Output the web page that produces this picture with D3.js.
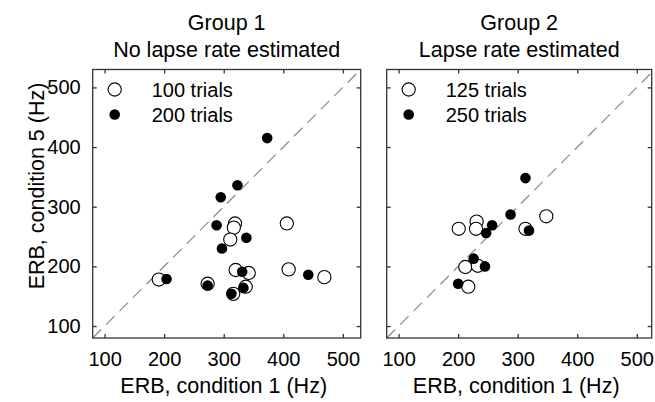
<!DOCTYPE html>
<html>
<head>
<meta charset="utf-8">
<script src="https://cdn.jsdelivr.net/npm/d3@7"></script>
<style>
  body { margin: 0; background: #fff; }
  text { font-family: "Liberation Sans", Arial, sans-serif; fill: #000; }
</style>
</head>
<body>
<div id="chart"></div>
<script>
// ERB condition 1 (x) vs ERB condition 5 (y), two groups

// group 1 - no lapse rate estimated
var g1OpenX = [191, 273, 319, 317, 311, 320, 342, 337, 316, 406, 409, 469];
var g1OpenY = [178, 171, 272, 265, 245, 194, 189, 166, 154, 272, 195, 182];
var g1FilledX = [204, 273, 313, 333, 331, 297, 338, 288, 295, 323, 373, 442];
var g1FilledY = [179, 168, 154, 164, 191, 230, 248, 269, 316, 336, 415, 186];

// group 2 - lapse rate estimated
var g2OpenX = [201, 231, 230, 212, 233, 217, 313, 348];
var g2OpenY = [263, 275, 263, 199, 201, 166, 263, 284];
var g2FilledX = [200, 226, 245, 247, 257, 288, 319, 313];
var g2FilledY = [171, 213, 200, 256, 269, 287, 260, 348];

var ticks = [100, 200, 300, 400, 500];
var titles1 = ["Group 1", "No lapse rate estimated"];
var titles2 = ["Group 2", "Lapse rate estimated"];
var legend1 = ["100 trials", "200 trials"];
var legend2 = ["125 trials", "250 trials"];

var svgWidth = 655;
var svgHeight = 402;

var svg = d3.select("#chart")
  .append("svg")
  .attr("width", svgWidth)
  .attr("height", svgHeight);

var panelTop = 69.5;
var panelHeight = 268.5;

// y scale is shared
var yScale = d3.scaleLinear()
  .domain([80, 530])
  .range([panelTop + panelHeight, panelTop]);

function zip(xs, ys) {
  return xs.map(function(x, i) { return {x: x, y: ys[i]}; });
}

function drawPanel(opts) {
  var x0 = opts.left, w = opts.width;
  var xScale = d3.scaleLinear()
    .domain(opts.xDomain)
    .range([x0, x0 + w]);

  var g = svg.append("g");

  // diagonal (identity) line
  var lo = Math.max(opts.xDomain[0], 80), hi = Math.min(opts.xDomain[1], 530);
  g.append("line")
    .attr("x1", xScale(lo)).attr("y1", yScale(lo))
    .attr("x2", xScale(hi)).attr("y2", yScale(hi))
    .attr("stroke", "#8a8a8a")
    .attr("stroke-width", 1.2)
    .attr("stroke-dasharray", "12,7");

  // axes, ticks pointing inward on all four sides
  var bottom = g.append("g")
    .attr("transform", `translate(0, ${panelTop + panelHeight})`)
    .call(d3.axisBottom(xScale).tickValues(ticks).tickSizeInner(-4).tickSizeOuter(0).tickPadding(14));
  var top = g.append("g")
    .attr("transform", `translate(0, ${panelTop})`)
    .call(d3.axisTop(xScale).tickValues(ticks).tickSizeInner(-4).tickSizeOuter(0).tickFormat(""));
  var left = g.append("g")
    .attr("transform", `translate(${x0}, 0)`)
    .call(d3.axisLeft(yScale).tickValues(ticks).tickSizeInner(-4).tickSizeOuter(0).tickPadding(12));
  var right = g.append("g")
    .attr("transform", `translate(${x0 + w}, 0)`)
    .call(d3.axisRight(yScale).tickValues(ticks).tickSizeInner(-4).tickSizeOuter(0).tickFormat(""));

  [bottom, top, left, right].forEach(function(a) {
    a.select(".domain").remove();
    a.selectAll("line").attr("stroke", "#333").attr("stroke-width", 1.3);
    a.selectAll("text").style("font-size", "20px").attr("fill", "#000");
  });
  if (!opts.yLabels) left.selectAll("text").remove();

  // frame
  g.append("rect")
    .attr("x", x0).attr("y", panelTop)
    .attr("width", w).attr("height", panelHeight)
    .attr("fill", "none")
    .attr("stroke", "#333")
    .attr("stroke-width", 1.3);

  // points: open circles
  g.selectAll(null)
    .data(zip(opts.openX, opts.openY))
    .enter()
    .append("circle")
    .attr("cx", d => xScale(d.x))
    .attr("cy", d => yScale(d.y))
    .attr("r", 6.6)
    .attr("fill", "#fff")
    .attr("stroke", "#000")
    .attr("stroke-width", 1.1);

  // filled circles
  g.selectAll(null)
    .data(zip(opts.filledX, opts.filledY))
    .enter()
    .append("circle")
    .attr("cx", d => xScale(d.x))
    .attr("cy", d => yScale(d.y))
    .attr("r", 5.3)
    .attr("fill", "#000");

  // legend
  var lg = g.append("g");
  lg.append("circle")
    .attr("cx", x0 + 22).attr("cy", 89.5).attr("r", 6.6)
    .attr("fill", "#fff").attr("stroke", "#000").attr("stroke-width", 1.1);
  lg.append("circle")
    .attr("cx", x0 + 22).attr("cy", 114.5).attr("r", 5.3)
    .attr("fill", "#000");
  lg.selectAll(null)
    .data(opts.legend)
    .enter()
    .append("text")
    .attr("x", x0 + 59)
    .attr("y", (d, i) => 96.5 + i * 25)
    .style("font-size", "20px")
    .text(d => d);

  // titles
  var cx = x0 + w / 2;
  g.selectAll(null)
    .data(opts.titles)
    .enter()
    .append("text")
    .attr("x", cx)
    .attr("y", (d, i) => 30 + i * 27)
    .attr("text-anchor", "middle")
    .style("font-size", "21.5px")
    .text(d => d);

  // x axis label
  g.append("text")
    .attr("x", cx - 3)
    .attr("y", 393)
    .attr("text-anchor", "middle")
    .style("font-size", "21.5px")
    .text("ERB, condition 1 (Hz)");
}

drawPanel({
  left: 92.7, width: 268, xDomain: [80, 530],
  openX: g1OpenX, openY: g1OpenY, filledX: g1FilledX, filledY: g1FilledY,
  legend: legend1, titles: titles1, yLabels: true
});

drawPanel({
  left: 386.7, width: 265, xDomain: [80, 525],
  openX: g2OpenX, openY: g2OpenY, filledX: g2FilledX, filledY: g2FilledY,
  legend: legend2, titles: titles2, yLabels: false
});

// y axis label
svg.append("text")
  .attr("transform", "translate(44, 186) rotate(-90)")
  .attr("text-anchor", "middle")
  .style("font-size", "21.5px")
  .text("ERB, condition 5 (Hz)");
</script>
</body>
</html>
